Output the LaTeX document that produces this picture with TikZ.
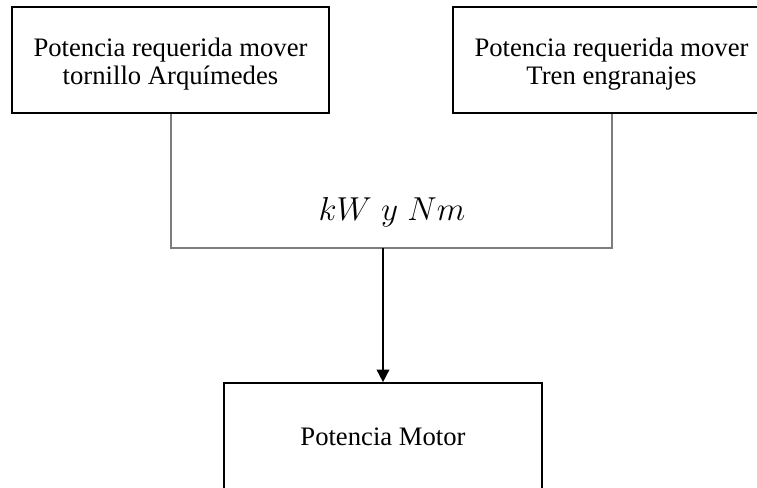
\documentclass[tikz,border=0pt]{standalone}
\usepackage{fontspec}
\setmainfont{Liberation Serif}
\usetikzlibrary{arrows.meta}
\definecolor{conncol}{RGB}{125,125,125}
\tikzset{
  blockbox/.style={draw=black, line width=1.5pt, fill=white, inner sep=0pt},
  topbox/.style={blockbox, minimum width=237.75pt, minimum height=79.5pt},
  boxtext/.style={align=center, font=\fontsize{20}{21}\selectfont, inner sep=0pt},
  conn/.style={draw=conncol, line width=1pt},
  arrowline/.style={draw=black, line width=1.3pt, -{Triangle[width=9.5pt,length=9.5pt]}},
  lbl/.style={font=\fontsize{27}{30}\selectfont, inner sep=0pt}
}
\begin{document}
\begin{tikzpicture}[x=0.75pt,y=-0.75pt]
\clip (0,0) rectangle (757,488);
\fill[white] (0,0) rectangle (757,488);
\coordinate (M) at (383,248);
\draw[conn] (171,112) |- (M) -| (612,112);
\node[topbox] (L) at (170.5,60) {};
\node[boxtext] (Lt) at (170.5,64) {Potencia requerida mover\\tornillo Arquímedes};
\node[topbox] (R) at (611.5,60) {};
\node[boxtext] (Rt) at (611.5,64) {Potencia requerida mover\\Tren engranajes};
\node[blockbox, minimum width=238.5pt, minimum height=80pt] (B) at (383,436.5) {};
\node[boxtext] (Bt) at (383,437) {Potencia Motor};
\node[lbl] (K) at (392,212) {$kW\;y\;Nm$};
\draw[arrowline] (M) -- (B.north);
\end{tikzpicture}
\end{document}
